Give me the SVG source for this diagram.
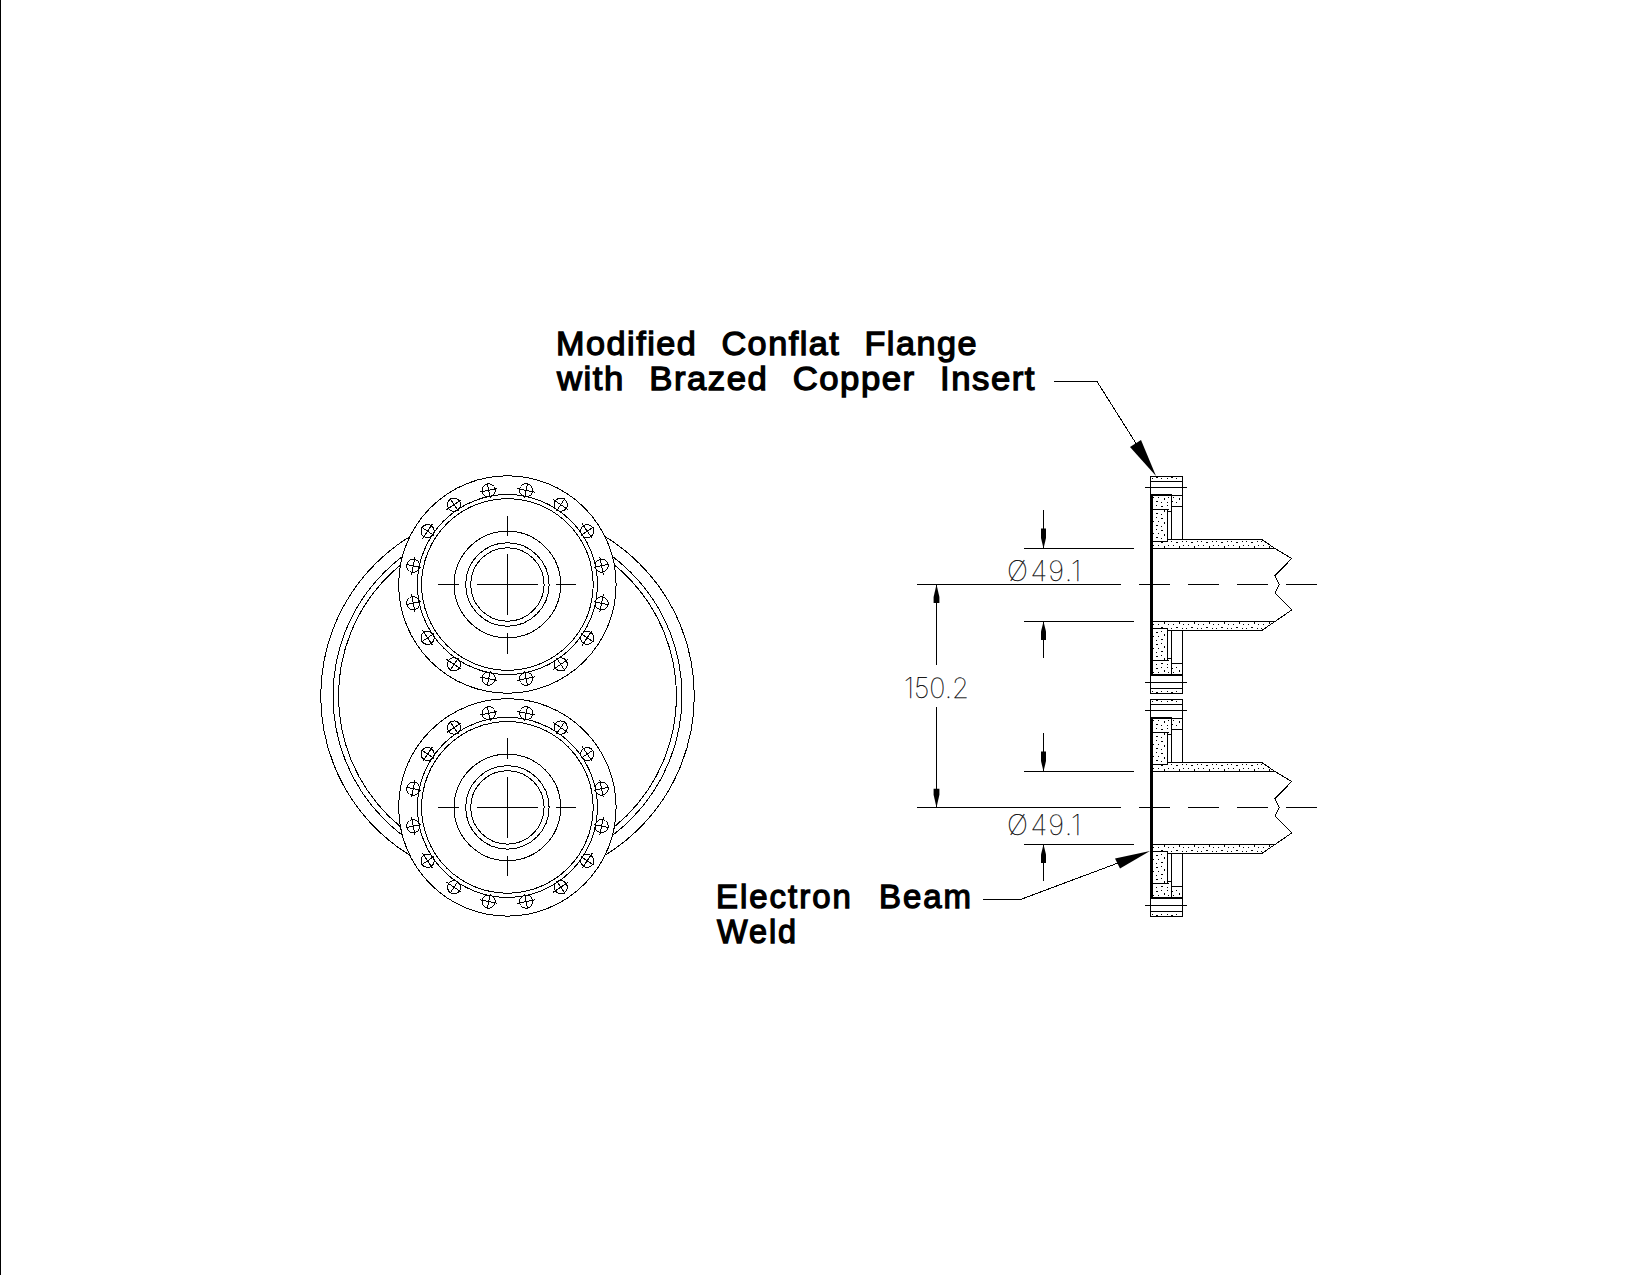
<svg xmlns="http://www.w3.org/2000/svg" width="1650" height="1275" viewBox="0 0 1650 1275">
<style>
.l{fill:none;stroke:#000;stroke-width:1;shape-rendering:crispEdges}
.w{fill:#fff;stroke:#000;stroke-width:1;shape-rendering:crispEdges}
.s{fill:url(#st);stroke:#000;stroke-width:1;shape-rendering:crispEdges}
.h{fill:#000;stroke:none}
.b{font-family:"Liberation Sans",Arial,sans-serif;font-weight:400;fill:#000;stroke:#000;stroke-width:1.3}
.t{font-family:"Inter","Liberation Sans",sans-serif;font-weight:100;fill:#000;stroke:#000;stroke-width:.25}
</style>
<defs>
<pattern id="st" width="15" height="12" patternUnits="userSpaceOnUse">
<rect width="15" height="12" fill="#fff"/>
<g fill="#000" shape-rendering="crispEdges">
<rect x="1" y="1" width="1" height="1"/><rect x="6" y="2" width="2" height="1"/><rect x="12" y="1" width="1" height="1"/>
<rect x="3" y="5" width="1" height="1"/><rect x="9" y="6" width="1" height="2"/><rect x="13" y="5" width="1" height="1"/>
<rect x="1" y="9" width="2" height="1"/><rect x="6" y="10" width="1" height="1"/><rect x="12" y="10" width="1" height="1"/>
</g>
</pattern>
<g id="bolt">
<circle class="l" cx="0" cy="-96" r="6.6"/>
<path class="l" d="M-9-96H9M0-103.5V-88.5"/>
</g>
<g id="flange">
<circle class="w" r="108.7"/>
<circle class="l" r="90"/>
<circle class="l" r="85.8"/>
<circle class="l" r="53.3"/>
<circle class="l" r="41.7"/>
<circle class="l" r="36.7"/>
<path class="l" d="M-30.5 0H30.5M0-30.5V30.5M-69 0H-48.5M48.5 0H69M0-69V-48.5M0 48.5V69"/>
<use href="#bolt" transform="rotate(11.25)"/><use href="#bolt" transform="rotate(33.75)"/><use href="#bolt" transform="rotate(56.25)"/><use href="#bolt" transform="rotate(78.75)"/>
<use href="#bolt" transform="rotate(101.25)"/><use href="#bolt" transform="rotate(123.75)"/><use href="#bolt" transform="rotate(146.25)"/><use href="#bolt" transform="rotate(168.75)"/>
<use href="#bolt" transform="rotate(191.25)"/><use href="#bolt" transform="rotate(213.75)"/><use href="#bolt" transform="rotate(236.25)"/><use href="#bolt" transform="rotate(258.75)"/>
<use href="#bolt" transform="rotate(281.25)"/><use href="#bolt" transform="rotate(303.75)"/><use href="#bolt" transform="rotate(326.25)"/><use href="#bolt" transform="rotate(348.75)"/>
</g>
<g id="half">
<rect class="w" x="1150.5" y="476.5" width="32" height="18.5"/>
<rect class="s" x="1150.5" y="476.5" width="32" height="5"/>
<path class="l" d="M1145 487.5H1186.7"/>
<rect class="s" x="1171.5" y="495.5" width="11" height="11"/>
<rect class="s" x="1152.5" y="495.5" width="19" height="16"/>
<path class="l" d="M1171.5 506.5V539.5M1182.5 506.5V539.5"/>
<polygon class="s" points="1152.5,548.5 1152.5,539.5 1261.7,539.5 1275,548.5"/>
<rect class="s" x="1152.5" y="509.5" width="15" height="32"/>
<rect class="h" x="1150" y="494" width="22" height="2"/>
</g>
<g id="side">
<use href="#half"/>
<use href="#half" transform="matrix(1 0 0 -1 0 1170)"/>
<path class="l" d="M1275 548.5L1291.7 558.5L1275 575.7L1279.3 584.5L1275 593.3L1291.7 610L1275 621.5"/>
<path class="l" d="M1139 584.5H1170M1188 584.5H1219M1237 584.5H1268M1286 584.5H1317"/>
<rect class="h" x="1150" y="495" width="3" height="180"/>
</g>
</defs>

<rect class="h" x="0" y="0" width="1" height="1275"/>

<g id="ring">
<circle class="l" cx="507.5" cy="695.9" r="186.8"/>
<circle class="l" cx="507.5" cy="695.9" r="174.5"/>
<circle class="l" cx="507.5" cy="695.9" r="169"/>
</g>
<g id="flange-top"><use href="#flange" transform="translate(507.4 584.5)"/></g>
<g id="flange-bottom"><use href="#flange" transform="translate(507.4 807.4)"/></g>
<g id="side-top"><use href="#side"/></g>
<g id="side-bottom"><use href="#side" transform="translate(0 223)"/></g>

<g id="connectors">
<path class="l" d="M917 584.5H1120.7M917 807.5H1120.7M1024 548.5H1134M1024 621.5H1134M1024 771.5H1134M1024 844.5H1134"/>
<path class="l" d="M936.5 584.5V665M936.5 706.7V807M1043.5 510V548M1043.5 658.3V622M1043.5 733V771M1043.5 881.3V845"/>
<path class="h" d="M936.5 584.5L939.4 597V603H933.6V597Z"/>
<path class="h" d="M936.5 807.5L939.4 794.8V788.8H933.6V794.8Z"/>
<path class="h" d="M1043.5 548.5L1046 538V528.5H1041V538Z"/>
<path class="h" d="M1043.5 621.5L1046 631.6V640H1041V631.6Z"/>
<path class="h" d="M1043.5 771.5L1046 761V751.5H1041V761Z"/>
<path class="h" d="M1043.5 844.5L1046 854.6V863H1041V854.6Z"/>
<path class="l" d="M1054 381.5H1097L1137 445"/>
<polygon class="h" points="1156,476 1130,447 1141,440"/>
<path class="l" d="M983 899.5H1020.5L1118 863"/>
<polygon class="h" points="1150,851 1115,858.5 1120,868.5"/>
</g>

<g id="labels">
<text class="b" x="556" y="355" font-size="34" letter-spacing="1.5" word-spacing="13" textLength="422" lengthAdjust="spacingAndGlyphs">Modified Conflat Flange</text>
<text class="b" x="557" y="390" font-size="34" letter-spacing="1.5" word-spacing="13" textLength="479" lengthAdjust="spacingAndGlyphs">with Brazed Copper Insert</text>
<text class="b" x="716" y="908" font-size="33" letter-spacing="2" word-spacing="15" textLength="257" lengthAdjust="spacingAndGlyphs">Electron Beam</text>
<text class="b" x="717" y="943" font-size="33" letter-spacing="2" textLength="81" lengthAdjust="spacingAndGlyphs">Weld</text>
<text class="t" x="904" y="698" font-size="28" textLength="65" lengthAdjust="spacingAndGlyphs">150.2</text>
<text class="t" font-size="28" y="581"><tspan x="1007">Ø</tspan> <tspan x="1030.5" letter-spacing="1.2">49.1</tspan></text>
<text class="t" font-size="28" y="835"><tspan x="1007">Ø</tspan> <tspan x="1030.5" letter-spacing="1.2">49.1</tspan></text>
</g>
</svg>
